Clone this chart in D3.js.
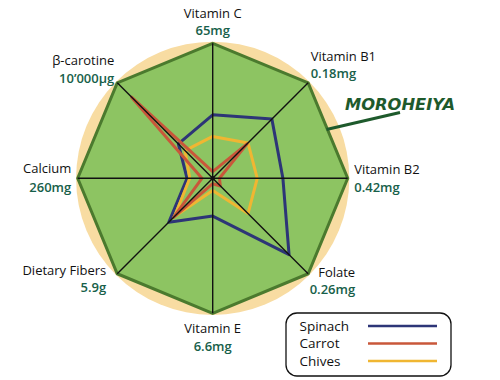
<!DOCTYPE html>
<html><head><meta charset="utf-8">
<script src="https://cdn.jsdelivr.net/npm/d3@7/dist/d3.min.js"></script>
<style>body{margin:0;background:#fff}svg{display:block}</style>
</head><body>
<svg id="c" width="500" height="380"></svg>
<script>
const axes = ["Vitamin C","Vitamin B1","Vitamin B2","Folate","Vitamin E","Dietary Fibers","Calcium","β-carotine"];
const amounts = ["65mg","0.18mg","0.42mg","0.26mg","6.6mg","5.9g","260mg","10’000µg"];
const spinach = [0.47, 0.62, 0.52, 0.80, 0.28, 0.46, 0.19, 0.36];
const carrot  = [0.05, 0.36, 0.05, 0.08, 0.04, 0.41, 0.08, 0.85];
const chives  = [0.31, 0.37, 0.33, 0.37, 0.09, 0.40, 0.17, 0.29];
const seriesNames = ["Spinach","Carrot","Chives"];
const seriesColors = ["#2d3577","#c9573a","#f0b632"];
const plantName = "MOROHEIYA";

const svg = d3.select("#c");
const cx = 212.7, cy = 178.3, R = 135;
const r = d3.scaleLinear().domain([0,1]).range([0,R]);
const ang = d3.scalePoint().domain(axes).range([0, 2*Math.PI*(axes.length-1)/axes.length]);
const g = svg.append("g").attr("transform",`translate(${cx},${cy})`);

// beige circle
g.append("circle").attr("r", r(1.012)).attr("fill","#f8dca2");

// octagon
const radial = d3.lineRadial().curve(d3.curveLinearClosed);
g.append("path")
  .attr("d", radial(axes.map(a => [ang(a), r(1)])))
  .attr("fill","#8dc462").attr("stroke","#4b7a2e").attr("stroke-width",3).attr("stroke-linejoin","miter");

// series
const series = [spinach, chives, carrot];
const sColors = [seriesColors[0], seriesColors[2], seriesColors[1]];
series.forEach((s,i) => {
  g.append("path")
    .attr("d", radial(axes.map((a,j) => [ang(a), r(s[j])])))
    .attr("fill","none").attr("stroke", sColors[i]).attr("stroke-width",3).attr("stroke-linejoin","round");
});

// spokes
const pt = (a, v) => [Math.sin(ang(a))*r(v), -Math.cos(ang(a))*r(v)];
axes.forEach(a => {
  const p = pt(a,1);
  g.append("line").attr("x1",0).attr("y1",0).attr("x2",p[0]).attr("y2",p[1])
    .attr("stroke","#111").attr("stroke-width",1.4);
});
g.append("circle").attr("r",2.2).attr("fill","#111");

// labels
const lay = [
  ["middle", 0, -25, -8],
  ["start", 2.5, -22, -5],
  ["start", 6.5, -4, 13.5],
  ["end", 47, 3, 20],
  ["middle", 0, 20, 37.5],
  ["end", -11, 1, 18.5],
  ["end", -6.5, -5, 13.5],
  ["end", -3, -18, 0]
];
axes.forEach((a,i) => {
  const p = pt(a,1);
  const L = lay[i];
  g.append("text").attr("x", p[0]+L[1]).attr("y", p[1]+L[2]).attr("text-anchor",L[0])
    .attr("font-family","Open Sans").attr("font-size",13).attr("fill","#111").text(a);
  g.append("text").attr("x", p[0]+L[1]).attr("y", p[1]+L[3]).attr("text-anchor",L[0])
    .attr("font-family","Open Sans").attr("font-weight",600).attr("font-size",13).attr("fill","#17604a").text(amounts[i]);
});

// MOROHEIYA callout
svg.append("line").attr("x1",326.5).attr("y1",129.5).attr("x2",400).attr("y2",112.5)
  .attr("stroke","#1e5a2c").attr("stroke-width",3);
svg.append("text").attr("x",345).attr("y",110).attr("font-family","DejaVu Sans")
  .attr("font-weight","bold").attr("font-style","italic").attr("font-size",16)
  .attr("textLength",110).attr("lengthAdjust","spacingAndGlyphs")
  .attr("fill","#1e5a2c").text(plantName);

// legend
const lg = svg.append("g");
lg.append("rect").attr("x",286).attr("y",313).attr("width",165).attr("height",63).attr("rx",11)
  .attr("fill","#fff").attr("stroke","#111").attr("stroke-width",1.3);
seriesNames.forEach((n,i) => {
  const y = 330.5 + i*17.5;
  lg.append("text").attr("x",299.5).attr("y",y).attr("font-family","Open Sans").attr("font-size",13.5)
    .attr("fill","#111").text(n);
  lg.append("line").attr("x1",368).attr("x2",437).attr("y1",y-4.5).attr("y2",y-4.5)
    .attr("stroke",seriesColors[i]).attr("stroke-width",2.5);
});
</script>
</body></html>
